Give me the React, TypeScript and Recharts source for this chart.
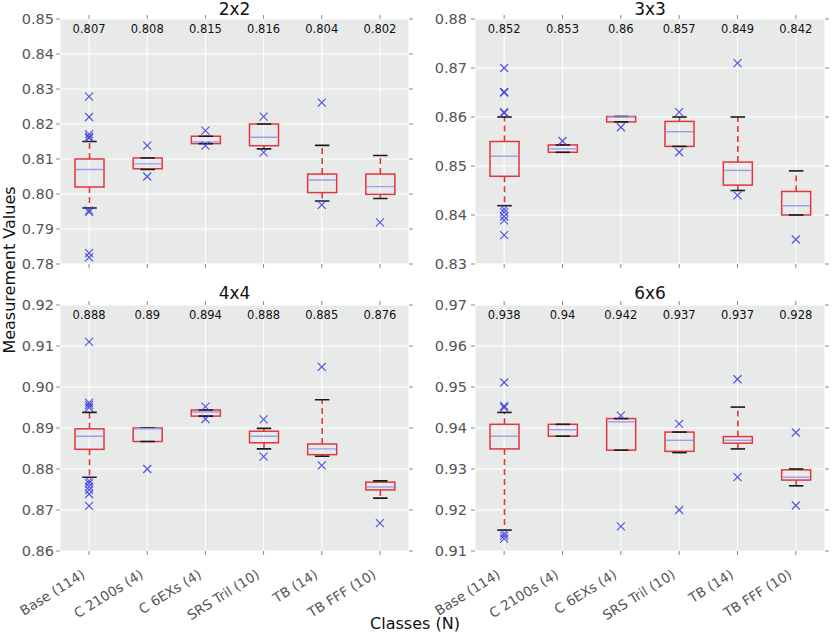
import React from 'react';
import { ComposedChart, Bar, Scatter, XAxis, YAxis, CartesianGrid } from 'recharts';

const categories = ['Base (114)', 'C 2100s (4)', 'C 6EXs (4)', 'SRS Tril (10)', 'TB (14)', 'TB FFF (10)'];

// 2x2
const low2 = [0.796, 0.807, 0.8144, 0.8129, 0.798, 0.7987];
const q1_2 = [0.802, 0.8072, 0.8144, 0.8138, 0.8004, 0.7999];
const med2 = [0.807, 0.8086, 0.8149, 0.8162, 0.804, 0.8021];
const q3_2 = [0.81, 0.8103, 0.8165, 0.82, 0.8057, 0.8057];
const high2 = [0.815, 0.8103, 0.8165, 0.82, 0.8139, 0.811];
const labels2 = ['0.807', '0.808', '0.815', '0.816', '0.804', '0.802'];
const fliers2 = [
  [0.8278, 0.822, 0.8171, 0.8164, 0.816, 0.7953, 0.7948, 0.7831, 0.7819],
  [0.8138, 0.805],
  [0.8181, 0.8138],
  [0.8221, 0.8119],
  [0.8261, 0.7969],
  [0.7919],
];
const ticks2 = [0.78, 0.79, 0.8, 0.81, 0.82, 0.83, 0.84, 0.85];

// 3x3
const low3 = [0.8419, 0.8528, 0.859, 0.854, 0.845, 0.84];
const q1_3 = [0.8479, 0.8528, 0.859, 0.854, 0.8461, 0.84];
const med3 = [0.852, 0.8535, 0.86, 0.857, 0.8491, 0.8419];
const q3_3 = [0.855, 0.8543, 0.8601, 0.8591, 0.8508, 0.8448];
const high3 = [0.86, 0.8543, 0.8601, 0.86, 0.86, 0.849];
const labels3 = ['0.852', '0.853', '0.86', '0.857', '0.849', '0.842'];
const fliers3 = [
  [0.87, 0.8651, 0.865, 0.861, 0.8608, 0.8412, 0.8406, 0.8397, 0.8389, 0.8359],
  [0.8551],
  [0.8579],
  [0.861, 0.8528],
  [0.871, 0.844],
  [0.835],
];
const ticks3 = [0.83, 0.84, 0.85, 0.86, 0.87, 0.88];

// 4x4
const low4 = [0.878, 0.8867, 0.8929, 0.8849, 0.8831, 0.8729];
const q1_4 = [0.8848, 0.8867, 0.8929, 0.8864, 0.8835, 0.8749];
const med4 = [0.888, 0.8898, 0.8939, 0.888, 0.8849, 0.8756];
const q3_4 = [0.8898, 0.89, 0.8944, 0.8892, 0.8861, 0.8768];
const high4 = [0.8938, 0.89, 0.8944, 0.8899, 0.8969, 0.8771];
const labels4 = ['0.888', '0.89', '0.894', '0.888', '0.885', '0.876'];
const fliers4 = [
  [0.911, 0.8962, 0.8956, 0.895, 0.8771, 0.8765, 0.8757, 0.8749, 0.8739, 0.871],
  [0.88],
  [0.8952, 0.8922],
  [0.8921, 0.883],
  [0.9049, 0.8809],
  [0.8668],
];
const ticks4 = [0.86, 0.87, 0.88, 0.89, 0.9, 0.91, 0.92];

// 6x6
const low6 = [0.9151, 0.938, 0.9346, 0.934, 0.9349, 0.9259];
const q1_6 = [0.9349, 0.938, 0.9346, 0.9343, 0.9363, 0.9273];
const med6 = [0.938, 0.9396, 0.9415, 0.937, 0.937, 0.928];
const q3_6 = [0.9409, 0.9409, 0.9423, 0.939, 0.9379, 0.9298];
const high6 = [0.9438, 0.9409, 0.9423, 0.939, 0.9451, 0.93];
const labels6 = ['0.938', '0.94', '0.942', '0.937', '0.937', '0.928'];
const fliers6 = [
  [0.9511, 0.9454, 0.945, 0.9143, 0.9137, 0.913],
  [],
  [0.943, 0.916],
  [0.941, 0.92],
  [0.9519, 0.928],
  [0.9389, 0.9211],
];
const ticks6 = [0.91, 0.92, 0.93, 0.94, 0.95, 0.96, 0.97];

const RED = '#E0363C';
const MEDIAN = '#9C9CEE';
const CAP = '#1a1a1a';
const FLIER = '#3a3ae0';
const BG = '#E8EAEA';
const TICK_TEXT = '#555';
const TICK_LINE = '#888';
const FONT = '"DejaVu Sans", sans-serif';

const MAX_FLIERS = 10;

function buildRows(lo: number[], q1: number[], med: number[], q3: number[], hi: number[], fl: number[][]) {
  return categories.map((name, i) => {
    const row: any = { name, lo: lo[i], q1: q1[i], med: med[i], q3: q3[i], hi: hi[i] };
    for (let k = 0; k < MAX_FLIERS; k++) row['f' + k] = fl[i][k] ?? null;
    return row;
  });
}

const BoxShape = (props: any) => {
  const { x, y, width, height, payload } = props;
  if (!payload || !isFinite(y) || !isFinite(height)) return <g />;
  const t = Math.min(y, y + height);
  const b = Math.max(y, y + height);
  const span = payload.hi - payload.lo;
  const py = (v: number) => b - ((v - payload.lo) / span) * (b - t);
  const cx = x + width / 2;
  const capW = width / 2;
  const yq1 = py(payload.q1);
  const yq3 = py(payload.q3);
  const ym = py(payload.med);
  return (
    <g>
      <line x1={cx} x2={cx} y1={yq3} y2={t} stroke={RED} strokeWidth={1.6} strokeDasharray="6 4" />
      <line x1={cx} x2={cx} y1={yq1} y2={b} stroke={RED} strokeWidth={1.6} strokeDasharray="6 4" />
      <rect x={x} y={yq3} width={width} height={Math.max(yq1 - yq3, 0.5)} fill="none" stroke={RED} strokeWidth={1.5} />
      <line x1={cx - capW / 2} x2={cx + capW / 2} y1={t} y2={t} stroke={CAP} strokeWidth={1.6} />
      <line x1={cx - capW / 2} x2={cx + capW / 2} y1={b} y2={b} stroke={CAP} strokeWidth={1.6} />
      <line x1={x + 1} x2={x + width - 1} y1={ym} y2={ym} stroke={MEDIAN} strokeWidth={1.4} />
    </g>
  );
};

const makeFlierShape = (key: string) => (props: any) => {
  const { cx, cy, payload } = props;
  if (!payload || payload[key] == null || !isFinite(cx) || !isFinite(cy)) return <g />;
  const s = 4;
  return (
    <g stroke={FLIER} strokeWidth={1.2} opacity={0.85}>
      <line x1={cx - s} y1={cy - s} x2={cx + s} y2={cy + s} />
      <line x1={cx - s} y1={cy + s} x2={cx + s} y2={cy - s} />
    </g>
  );
};

type PanelProps = {
  lo: number[]; q1: number[]; med: number[]; q3: number[]; hi: number[];
  labels: string[]; fliers: number[][]; ticks: number[];
  left: number; top: number; width: number; height: number;
  axisLeft: number; axisRight: number; topH: number; bottomH: number;
  tickMargin: number; rotated: boolean;
};

function Panel(p: PanelProps) {
  const rows = buildRows(p.lo, p.q1, p.med, p.q3, p.hi, p.fliers);
  const domain = [p.ticks[0], p.ticks[p.ticks.length - 1]];
  const topTick = (tp: any) => {
    const idx = categories.indexOf(tp.payload.value);
    return (
      <text x={tp.x} y={p.topH + 14} textAnchor="middle" fontSize={11.5} fill="#111" fontFamily={FONT}>
        {p.labels[idx]}
      </text>
    );
  };
  const bottomTick = (tp: any) => {
    if (!p.rotated) return <g />;
    const ax = tp.x - 3;
    const ay = tp.y + 20;
    return (
      <text x={ax} y={ay} textAnchor="end" fontSize={13.5} fill={TICK_TEXT} fontFamily={FONT}
        transform={`rotate(-32, ${ax}, ${ay})`}>
        {tp.payload.value}
      </text>
    );
  };
  return (
    <div style={{ position: 'absolute', left: p.left, top: p.top, width: p.width, height: p.height }}>
      <ComposedChart width={p.width} height={p.height} data={rows}
        margin={{ top: 0, right: 0, bottom: 0, left: 0 }}>
        <CartesianGrid fill={BG} stroke="#ffffff" strokeWidth={1} />
        <XAxis dataKey="name" type="category" height={p.bottomH} axisLine={false}
          tickSize={4} tickLine={{ stroke: TICK_LINE }} interval={0} tick={bottomTick} />
        <XAxis xAxisId="top" orientation="top" dataKey="name" type="category" height={p.topH}
          axisLine={false} tickSize={4} tickLine={{ stroke: TICK_LINE }} interval={0} tick={topTick} />
        <YAxis type="number" domain={domain} ticks={p.ticks} allowDataOverflow width={p.axisLeft}
          axisLine={false} tickSize={4} tickMargin={p.tickMargin} tickLine={{ stroke: TICK_LINE }}
          tick={{ fill: TICK_TEXT, fontSize: 14.5, fontFamily: FONT }}
          tickFormatter={(v: number) => v.toFixed(2)} interval={0} />
        <YAxis yAxisId="right" orientation="right" type="number" domain={domain} ticks={p.ticks}
          allowDataOverflow width={p.axisRight} axisLine={false} tickSize={4}
          tickLine={{ stroke: TICK_LINE }} tick={() => <g />} interval={0} />
        <Bar dataKey={(d: any) => [d.lo, d.hi]} barSize={29} shape={BoxShape} isAnimationActive={false} />
        {Array.from({ length: MAX_FLIERS }, (_, k) => (
          <Scatter key={k} dataKey={'f' + k} shape={makeFlierShape('f' + k)} isAnimationActive={false} />
        ))}
      </ComposedChart>
    </div>
  );
}

export default function App() {
  return (
    <div style={{ position: 'absolute', left: 0, top: 0, width: 837, height: 635, background: '#fff', fontFamily: FONT, overflow: 'hidden' }}>
      <Panel lo={low2} q1={q1_2} med={med2} q3={q3_2} hi={high2} labels={labels2} fliers={fliers2} ticks={ticks2}
        left={0} top={0} width={420} height={280} axisLeft={60} axisRight={11} topH={19} bottomH={16}
        tickMargin={2} rotated={false} />
      <Panel lo={low3} q1={q1_3} med={med3} q3={q3_3} hi={high3} labels={labels3} fliers={fliers3} ticks={ticks3}
        left={420} top={0} width={417} height={280} axisLeft={55} axisRight={12} topH={19} bottomH={16}
        tickMargin={4} rotated={false} />
      <Panel lo={low4} q1={q1_4} med={med4} q3={q3_4} hi={high4} labels={labels4} fliers={fliers4} ticks={ticks4}
        left={0} top={280} width={420} height={355} axisLeft={60} axisRight={11} topH={25} bottomH={84}
        tickMargin={2} rotated={true} />
      <Panel lo={low6} q1={q1_6} med={med6} q3={q3_6} hi={high6} labels={labels6} fliers={fliers6} ticks={ticks6}
        left={420} top={280} width={417} height={355} axisLeft={55} axisRight={12} topH={25} bottomH={84}
        tickMargin={4} rotated={true} />
      <svg width={837} height={635} style={{ position: 'absolute', left: 0, top: 0, pointerEvents: 'none' }}>
        <text x={234.5} y={15} textAnchor="middle" fontSize={17} fill="#111" fontFamily={FONT}>2x2</text>
        <text x={650} y={15} textAnchor="middle" fontSize={17} fill="#111" fontFamily={FONT}>3x3</text>
        <text x={234.5} y={299} textAnchor="middle" fontSize={17} fill="#111" fontFamily={FONT}>4x4</text>
        <text x={650} y={299} textAnchor="middle" fontSize={17} fill="#111" fontFamily={FONT}>6x6</text>
        <text x={15} y={270} textAnchor="middle" fontSize={16} fill="#111" fontFamily={FONT}
          transform="rotate(-90, 15, 270)">Measurement Values</text>
        <text x={415} y={629} textAnchor="middle" fontSize={16} fill="#111" fontFamily={FONT}>Classes (N)</text>
      </svg>
    </div>
  );
}
